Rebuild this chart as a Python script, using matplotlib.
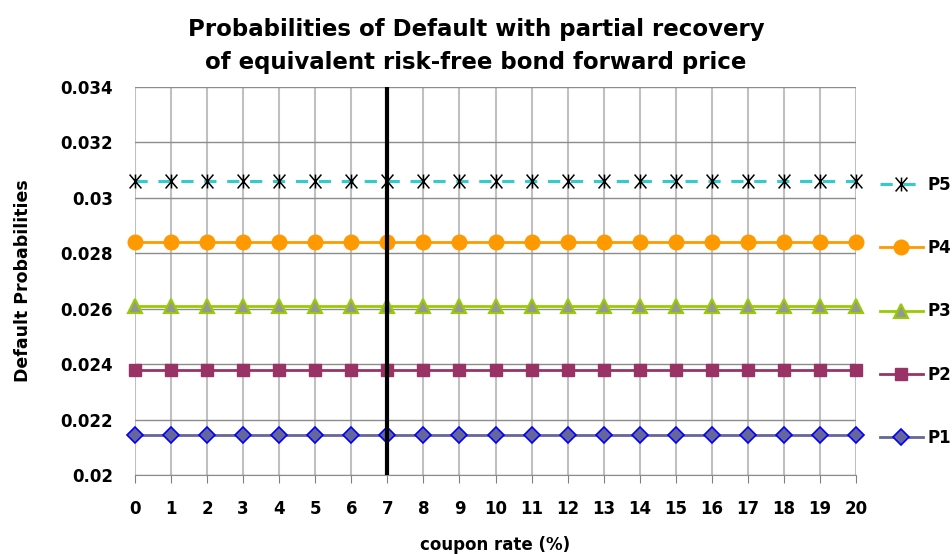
import matplotlib
matplotlib.use("Agg")
import matplotlib.pyplot as plt
from matplotlib.path import Path

coupon = list(range(0, 21))
p1 = [0.02145] * 21
p2 = [0.02378] * 21
p3 = [0.02608] * 21
p4 = [0.02841] * 21
p5 = [0.03061] * 21
yticks = [0.02, 0.022, 0.024, 0.026, 0.028, 0.03, 0.032, 0.034]
ytick_labels = ["0.02", "0.022", "0.024", "0.026", "0.028", "0.03", "0.032", "0.034"]
marked_coupon = 7

plt.rcParams['font.family'] = ['DejaVu Sans']

# excel-like star: vertical bar plus an X
star = Path([(0, -1), (0, 1), (-0.85, -1), (0.85, 1), (-0.85, 1), (0.85, -1)],
            [Path.MOVETO, Path.LINETO] * 3)

fig = plt.figure(figsize=(9.52, 5.54), dpi=100)
ax = fig.add_axes([135 / 952, 1 - 475 / 554, 721 / 952, 388 / 554])

ax.plot(coupon, p5, color='#33cccc', lw=2.2, dashes=(4, 3.5), marker=star,
        ms=10, mec='black', mfc='none', mew=1.1, label='P5', clip_on=False)
ax.plot(coupon, p4, color='#ff9900', lw=2, marker='o', ms=10.5, mfc='#ff9900',
        mec='#ff9900', label='P4', clip_on=False)
ax.plot(coupon, p3, color='#99cc00', lw=2, marker='^', ms=10, mfc='#969696',
        mec='#99cc00', mew=1.5, label='P3', clip_on=False)
ax.plot(coupon, p2, color='#993366', lw=2, marker='s', ms=9, mfc='#993366',
        mec='#993366', label='P2', clip_on=False)
ax.plot(coupon, p1, color='#666699', lw=2, marker='D', ms=8, mfc='#666699',
        mec='#0000ff', mew=1.2, label='P1', clip_on=False)

ax.axvline(marked_coupon, color='black', lw=3, zorder=5)

ax.set_xlim(0, 20)
ax.set_ylim(0.02, 0.034)
ax.set_xticks(coupon)
ax.set_xticklabels([str(c) for c in coupon], fontsize=12, fontweight='bold')
ax.set_yticks(yticks)
ax.set_yticklabels(ytick_labels, fontsize=12, fontweight='bold')
ax.tick_params(axis='x', length=6, color='#808080', pad=12)
ax.tick_params(axis='y', length=0, pad=16)
ax.grid(axis='x', color='#c0c0c0', lw=1.5)
ax.grid(axis='y', color='#8c8c8c', lw=1)
ax.set_axisbelow(True)
for s in ax.spines.values():
    s.set_visible(False)
ax.spines['bottom'].set_visible(True)
ax.spines['bottom'].set_color('#8c8c8c')

ax.set_xlabel('coupon rate (%)', fontsize=12, fontweight='bold', labelpad=13)
ax.set_ylabel('Default Probabilities', fontsize=12.5, fontweight='semibold', labelpad=20)
fig.suptitle('Probabilities of Default with partial recovery\nof equivalent risk-free bond forward price',
             fontsize=16.5, fontweight='bold', y=0.968, linespacing=1.55)

leg = ax.legend(loc='upper left', bbox_to_anchor=(1.012, 0.81), frameon=False,
                prop={'weight': 'bold', 'size': 12},
                labelspacing=2.72, handlelength=2.6, handletextpad=0.3,
                borderaxespad=0.5)

fig.savefig('out.png', dpi=100)
